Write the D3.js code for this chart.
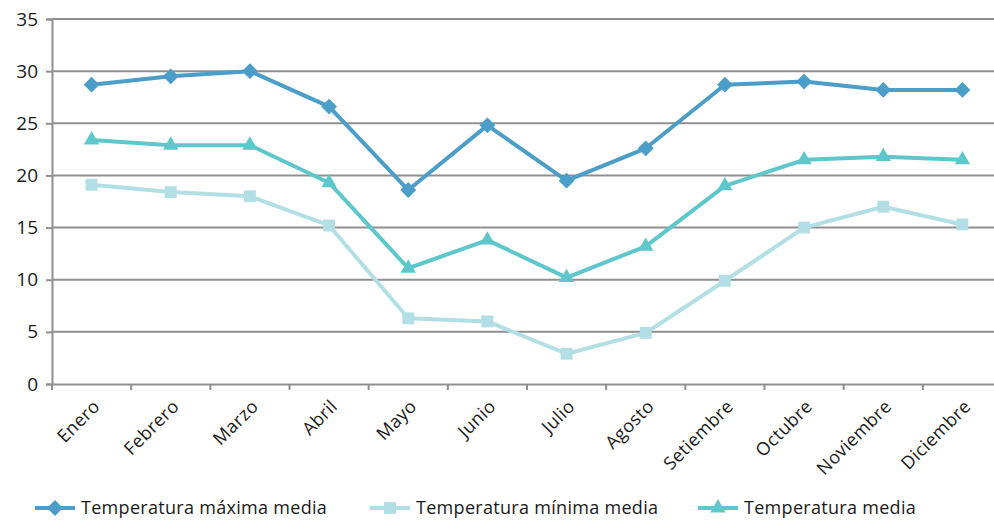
<!DOCTYPE html>
<html>
<head>
<meta charset="utf-8">
<script src="https://cdn.jsdelivr.net/npm/d3@7"></script>
<style>
  body { margin: 0; background: #fff; }
  text { font-family: "Open Sans", "Noto Sans", sans-serif; fill: #1a1a1a; }
</style>
</head>
<body>
<div id="chart"></div>
<script>
var months = ["Enero", "Febrero", "Marzo", "Abril", "Mayo", "Junio", "Julio", "Agosto", "Setiembre", "Octubre", "Noviembre", "Diciembre"];
var tMax = [28.7, 29.5, 30.0, 26.6, 18.6, 24.8, 19.5, 22.6, 28.7, 29.0, 28.2, 28.2];
var tMin = [19.1, 18.4, 18.0, 15.2, 6.3, 6.0, 2.9, 4.9, 9.9, 15.0, 17.0, 15.3];
var tMed = [23.4, 22.9, 22.9, 19.3, 11.1, 13.8, 10.2, 13.2, 19.0, 21.5, 21.8, 21.5];
var yTicks = [0, 5, 10, 15, 20, 25, 30, 35];

var series = [
  { name: "Temperatura máxima media", values: tMax, color: "#4a9ec8", symbol: d3.symbolDiamond2, size: 160 },
  { name: "Temperatura mínima media", values: tMin, color: "#b2dfe6", symbol: d3.symbolSquare2, size: 180 },
  { name: "Temperatura media", values: tMed, color: "#5ec7cc", symbol: d3.symbolTriangle2, size: 170 }
];

var W = 994, H = 520;
var plot = { left: 52, right: 1002, top: 19, bottom: 384 };

var svg = d3.select("#chart").append("svg")
  .attr("width", W).attr("height", H);

var x = d3.scaleBand().domain(months).range([plot.left, plot.right]);
var y = d3.scaleLinear().domain([0, 35]).range([plot.bottom, plot.top]);

// gridlines
svg.append("g").selectAll("line")
  .data(yTicks.slice(1))
  .enter().append("line")
  .attr("x1", plot.left).attr("x2", plot.right)
  .attr("y1", function(d) { return y(d); }).attr("y2", function(d) { return y(d); })
  .attr("stroke", "#8f8f8f").attr("stroke-width", 2);

// y axis
var yAxis = svg.append("g")
  .attr("transform", "translate(" + plot.left + ",0)")
  .call(d3.axisLeft(y).tickValues(yTicks).tickSize(6).tickPadding(8));
yAxis.select(".domain").attr("stroke", "#8f8f8f").attr("stroke-width", 2);
yAxis.selectAll(".tick line").attr("stroke", "#8f8f8f").attr("stroke-width", 2);
yAxis.selectAll(".tick text").style("font-size", "19px").attr("fill", "#1a1a1a")
  .style("font-family", "'Open Sans', sans-serif");

// x axis
var xAxis = svg.append("g")
  .attr("transform", "translate(0," + plot.bottom + ")")
  .call(d3.axisBottom(x).tickSize(0).tickFormat(""));
xAxis.select(".domain").attr("stroke", "#8f8f8f").attr("stroke-width", 2);

// ticks between categories
svg.append("g").selectAll("line")
  .data(months)
  .enter().append("line")
  .attr("x1", function(d) { return x(d); }).attr("x2", function(d) { return x(d); })
  .attr("y1", plot.bottom).attr("y2", plot.bottom + 6)
  .attr("stroke", "#8f8f8f").attr("stroke-width", 2);

// rotated month labels
svg.append("g").selectAll("text")
  .data(months)
  .enter().append("text")
  .attr("transform", function(d) {
    return "translate(" + (x(d) + x.bandwidth() / 2 + 5) + "," + (plot.bottom + 19) + ") rotate(-45)";
  })
  .attr("text-anchor", "end")
  .attr("dy", "0.35em")
  .style("font-size", "18px")
  .style("letter-spacing", "0.4px")
  .text(function(d) { return d; });

var line = d3.line()
  .x(function(d, i) { return x(months[i]) + x.bandwidth() / 2; })
  .y(function(d) { return y(d); });

series.forEach(function(s) {
  var g = svg.append("g");
  g.append("path")
    .datum(s.values)
    .attr("d", line)
    .attr("fill", "none")
    .attr("stroke", s.color)
    .attr("stroke-width", 4)
    .attr("stroke-linejoin", "round");
  g.selectAll("path.m")
    .data(s.values)
    .enter().append("path")
    .attr("class", "m")
    .attr("d", d3.symbol().type(s.symbol).size(s.size))
    .attr("transform", function(d, i) {
      return "translate(" + (x(months[i]) + x.bandwidth() / 2) + "," + y(d) + ")";
    })
    .attr("fill", s.color);
});

// legend
var legendX = [35, 370, 698];
var legend = svg.append("g").selectAll("g")
  .data(series)
  .enter().append("g")
  .attr("transform", function(d, i) { return "translate(" + legendX[i] + ",508)"; });
legend.append("line")
  .attr("x1", 0).attr("x2", 40)
  .attr("stroke", function(d) { return d.color; })
  .attr("stroke-width", 4);
legend.append("path")
  .attr("d", function(d) { return d3.symbol().type(d.symbol).size(d.size)(); })
  .attr("transform", "translate(20,0)")
  .attr("fill", function(d) { return d.color; });
legend.append("text")
  .attr("x", 46)
  .attr("dy", "0.35em")
  .style("font-size", "18px")
  .style("letter-spacing", "0.3px")
  .text(function(d) { return d.name; });
</script>
</body>
</html>
